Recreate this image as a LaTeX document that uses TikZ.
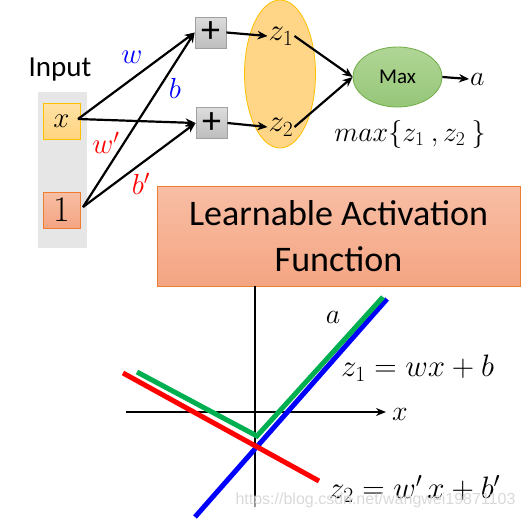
\documentclass[tikz,border=0pt]{standalone}
\usepackage{fix-cm}
\usepackage{fontspec}
\setmainfont{Carlito}
\newfontfamily\wmfont{Liberation Sans}
\usetikzlibrary{arrows.meta,shapes.geometric}
\definecolor{inbg}{RGB}{230,230,230}
\definecolor{xtop}{RGB}{255,226,165}
\definecolor{xbot}{RGB}{255,212,128}
\definecolor{xline}{RGB}{255,192,0}
\definecolor{stop}{RGB}{248,190,165}
\definecolor{sbot}{RGB}{244,165,130}
\definecolor{sline}{RGB}{237,125,49}
\definecolor{gtop}{RGB}{220,220,220}
\definecolor{gbot}{RGB}{190,190,190}
\definecolor{gline}{RGB}{160,160,160}
\definecolor{ofill}{RGB}{255,214,135}
\definecolor{mtop}{RGB}{176,214,150}
\definecolor{mbot}{RGB}{150,198,120}
\definecolor{mline}{RGB}{112,173,71}
\definecolor{lgreen}{RGB}{0,176,80}
\begin{document}
\begin{tikzpicture}[x=1pt,y=-1pt,
  arr/.style={-{Stealth[length=10pt,width=8.5pt]}, line width=2.2pt},
  inbox/.style={rectangle, draw, line width=0.8pt, minimum width=37pt, minimum height=36pt, inner sep=0pt},
  plusbox/.style={rectangle, draw=gline, top color=gtop, bottom color=gbot, line width=0.8pt, minimum width=31pt, minimum height=31pt, inner sep=0pt, font=\fontsize{38}{38}\selectfont},
  wlab/.style={font=\fontsize{29}{29}\selectfont},
  mathlab/.style={inner sep=1pt, font=\fontsize{28}{28}\selectfont},
  zlab/.style={inner sep=1pt, font=\fontsize{31}{31}\selectfont},
  eqlab/.style={inner sep=1pt, anchor=west, font=\fontsize{31}{31}\selectfont},
  fline/.style={line width=5pt}
]
\useasboundingbox (0,0) rectangle (523,520);
% input column
\fill[inbg] (38,92) rectangle (87,248);
\node[font=\fontsize{29}{29}\selectfont] (inp) at (60,70) {Input};
\node[inbox, draw=xline, top color=xtop, bottom color=xbot, font=\fontsize{29}{29}\selectfont] (xb) at (61.5,121) {$x$};
\node[inbox, draw=sline, top color=stop, bottom color=sbot, font=\fontsize{36}{36}\selectfont] (ob) at (61.5,210) {$1$};
\coordinate (xo) at (78,119);
\coordinate (oo) at (83,207);
% plus boxes
\node[plusbox] (p1) at (210.5,32.5) {+};
\node[plusbox] (p2) at (211.5,123) {+};
\draw[arr] (xo) -- (p1.west);
\draw[arr] (xo) -- (p2.west);
\draw[arr] (oo) -- (p1.west);
\draw[arr] (oo) -- (p2.west);
\node[wlab, text=blue] (lw) at (132,57) {$w$};
\node[wlab, text=blue] (lb) at (175,88) {$b$};
\node[wlab, text=red] (lw2) at (106,143) {$w'$};
\node[wlab, text=red] (lb2) at (141,184) {$b'$};
% z ellipse
\node[ellipse, draw=xline, fill=ofill, line width=0.8pt, minimum width=71pt, minimum height=148pt, inner sep=0pt] (ell) at (280,74) {};
\node[zlab] (z1) at (281,36) {$z_1$};
\node[zlab] (z2) at (281,127) {$z_2$};
\draw[arr] (p1.east) -- (z1.west);
\draw[arr] (p2.east) -- (z2.west);
% max
\node[ellipse, draw=mline, top color=mtop, bottom color=mbot, line width=0.8pt, minimum width=89pt, minimum height=60pt, inner sep=0pt, font=\fontsize{21}{21}\selectfont] (mx) at (397.5,77) {Max};
\draw[arr] (z1.east) -- (mx.west);
\draw[arr] (z2.east) -- (mx.west);
\node[mathlab, anchor=west] (aout) at (469,79) {$a$};
\draw[arr] (mx.east) -- (aout.west);
\node[font=\fontsize{28}{28}\selectfont] (mf) at (410,134) {$max\{z_1\ ,z_2\ \}$};
% learnable box
\node[rectangle, draw=sline, top color=stop, bottom color=sbot, line width=1pt, minimum width=363pt, minimum height=100pt, inner sep=0pt, align=center, font=\fontsize{36}{46}\selectfont] (lab) at (338.5,236) {Learnable Activation\\Function};
% axes
\coordinate (vt) at (255,286);
\coordinate (vb) at (255,507);
\coordinate (hl) at (126,412);
\coordinate (hr) at (386,412);
\draw[line width=1.8pt] (vt) -- (vb);
\draw[line width=1.8pt, -{Stealth[length=10pt,width=8pt]}] (hl) -- (hr);
\node[mathlab, anchor=west] (xl) at (391,414) {$x$};
% lines
\coordinate (b1) at (195,517);
\coordinate (b2) at (387,299);
\coordinate (g1) at (137,372);
\coordinate (g2) at (257,436);
\coordinate (g3) at (383,297);
\coordinate (r1) at (123,373);
\coordinate (r2) at (319,481);
\draw[fline, blue] (b1) -- (b2);
\draw[fline, lgreen] (g1) -- (g2) -- (g3);
\draw[fline, red] (r1) -- (r2);
\node[mathlab] (al) at (333,317) {$a$};
\node[eqlab] (e1) at (340,368) {$z_1 = wx + b$};
\node[eqlab] (e2) at (328,489) {$z_2 = w'\,x + b'$};
\node[text=gray!30, font=\wmfont\fontsize{16}{16}\selectfont, anchor=west] (wm) at (232,500) {https://blog.csdn.net/wangwei19871103};
\end{tikzpicture}
\end{document}
